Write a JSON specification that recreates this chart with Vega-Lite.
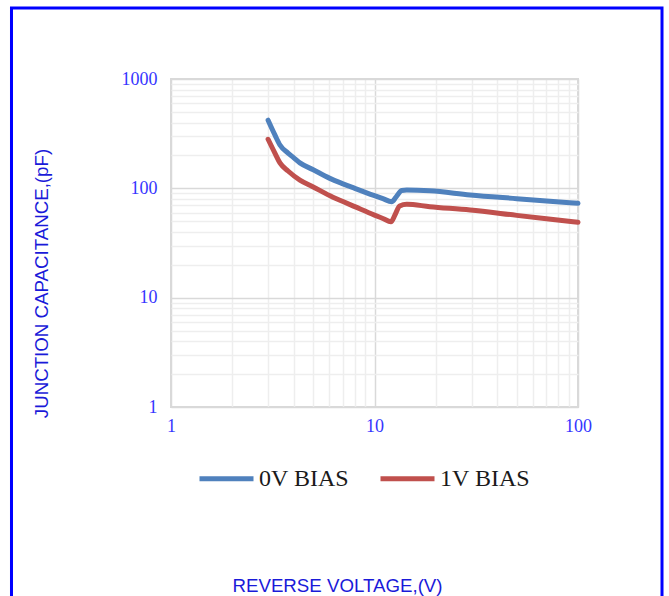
{
  "$schema": "https://vega.github.io/schema/vega-lite/v6.json",
  "width": 407,
  "height": 328,
  "autosize": {"type": "none"},
  "padding": {"left": 171, "top": 79, "right": 91, "bottom": 189},
  "background": "white",
  "config": {
    "view": {"stroke": "#d9d9d9", "strokeWidth": 2}
  },
  "datasets": {
    "curves": [
      {"v": 3.0, "c": 420, "s": "0V BIAS"},
      {"v": 3.24, "c": 308, "s": "0V BIAS"},
      {"v": 3.43, "c": 249, "s": "0V BIAS"},
      {"v": 3.76, "c": 210, "s": "0V BIAS"},
      {"v": 4.0, "c": 191, "s": "0V BIAS"},
      {"v": 4.3, "c": 171, "s": "0V BIAS"},
      {"v": 5.0, "c": 148, "s": "0V BIAS"},
      {"v": 6.0, "c": 124, "s": "0V BIAS"},
      {"v": 7.0, "c": 110, "s": "0V BIAS"},
      {"v": 8.0, "c": 100, "s": "0V BIAS"},
      {"v": 10.0, "c": 85.7, "s": "0V BIAS"},
      {"v": 11.0, "c": 80.5, "s": "0V BIAS"},
      {"v": 12.15, "c": 75.5, "s": "0V BIAS"},
      {"v": 12.75, "c": 83, "s": "0V BIAS"},
      {"v": 13.6, "c": 95.5, "s": "0V BIAS"},
      {"v": 14.4, "c": 96.5, "s": "0V BIAS"},
      {"v": 18.7, "c": 95, "s": "0V BIAS"},
      {"v": 29.5, "c": 87, "s": "0V BIAS"},
      {"v": 50, "c": 80.5, "s": "0V BIAS"},
      {"v": 70, "c": 76.7, "s": "0V BIAS"},
      {"v": 100, "c": 73, "s": "0V BIAS"},
      {"v": 3.0, "c": 281, "s": "1V BIAS"},
      {"v": 3.24, "c": 210, "s": "1V BIAS"},
      {"v": 3.43, "c": 171, "s": "1V BIAS"},
      {"v": 3.76, "c": 144, "s": "1V BIAS"},
      {"v": 4.3, "c": 119, "s": "1V BIAS"},
      {"v": 5.0, "c": 103, "s": "1V BIAS"},
      {"v": 6.25, "c": 83, "s": "1V BIAS"},
      {"v": 7.0, "c": 75.7, "s": "1V BIAS"},
      {"v": 8.0, "c": 68, "s": "1V BIAS"},
      {"v": 10.0, "c": 56.9, "s": "1V BIAS"},
      {"v": 11.0, "c": 53, "s": "1V BIAS"},
      {"v": 12.05, "c": 49.5, "s": "1V BIAS"},
      {"v": 12.6, "c": 57, "s": "1V BIAS"},
      {"v": 13.3, "c": 69, "s": "1V BIAS"},
      {"v": 14.4, "c": 71.5, "s": "1V BIAS"},
      {"v": 18.7, "c": 68, "s": "1V BIAS"},
      {"v": 29.5, "c": 63.4, "s": "1V BIAS"},
      {"v": 50, "c": 56.6, "s": "1V BIAS"},
      {"v": 70, "c": 52.7, "s": "1V BIAS"},
      {"v": 100, "c": 49, "s": "1V BIAS"}
    ]
  },
  "layer": [
    {
      "data": {"name": "curves"},
      "mark": {"type": "line", "strokeWidth": 5, "interpolate": "monotone", "strokeCap": "round", "strokeJoin": "round"},
      "encoding": {
        "x": {
          "field": "v", "type": "quantitative",
          "scale": {"type": "log", "domain": [1, 100], "nice": false},
          "axis": {
            "title": "REVERSE VOLTAGE,(V)",
            "titleFont": "Liberation Sans", "titleFontSize": 18.7, "titleFontWeight": "normal", "titleColor": "#1a1ad9",
            "titleX": 166, "titleY": 178, "titleBaseline": "middle", "titleAlign": "center",
            "values": [1, 2, 3, 4, 5, 6, 7, 8, 9, 10, 20, 30, 40, 50, 60, 70, 80, 90, 100],
            "labelExpr": "abs(log(datum.value)/LN10 - round(log(datum.value)/LN10)) < 0.001 ? format(datum.value, 'd') : ''",
            "labelFont": "Liberation Serif", "labelFontSize": 18, "labelColor": "#3535ff",
            "labelPadding": 10, "labelOverlap": false, "labelFlush": false,
            "ticks": false, "domain": false,
            "grid": true, "gridWidth": 1.5,
            "gridColor": {"condition": {"test": "abs(log(datum.value)/LN10 - round(log(datum.value)/LN10)) < 0.001", "value": "#d9d9d9"}, "value": "#eeeeee"}
          }
        },
        "y": {
          "field": "c", "type": "quantitative",
          "scale": {"type": "log", "domain": [1, 1000], "nice": false},
          "axis": {
            "title": "JUNCTION CAPACITANCE,(pF)",
            "titleFont": "Liberation Sans", "titleFontSize": 18.7, "titleFontWeight": "normal", "titleColor": "#1a1ad9",
            "titleX": -130, "titleY": 204, "titleBaseline": "middle", "titleAlign": "center", "titleAngle": -90,
            "values": [1, 2, 3, 4, 5, 6, 7, 8, 9, 10, 20, 30, 40, 50, 60, 70, 80, 90, 100, 200, 300, 400, 500, 600, 700, 800, 900, 1000],
            "labelExpr": "abs(log(datum.value)/LN10 - round(log(datum.value)/LN10)) < 0.001 ? format(datum.value, 'd') : ''",
            "labelFont": "Liberation Serif", "labelFontSize": 18, "labelColor": "#3535ff",
            "labelPadding": 14, "labelOverlap": false, "labelFlush": false,
            "ticks": false, "domain": false,
            "grid": true, "gridWidth": 1.5,
            "gridColor": {"condition": {"test": "abs(log(datum.value)/LN10 - round(log(datum.value)/LN10)) < 0.001", "value": "#d9d9d9"}, "value": "#eeeeee"}
          }
        },
        "color": {
          "field": "s", "type": "nominal",
          "scale": {"domain": ["0V BIAS", "1V BIAS"], "range": ["#4f81bd", "#c0504d"]},
          "legend": {
            "title": null, "orient": "none", "legendX": 26, "legendY": 370, "direction": "horizontal",
            "padding": 0, "symbolType": "stroke", "symbolSize": 2916, "symbolStrokeWidth": 5,
            "labelFont": "Liberation Serif", "labelFontSize": 24, "labelColor": "#1a1a1a",
            "labelOffset": 3, "columnPadding": 20, "labelLimit": 200
          }
        }
      }
    },
    {
      "data": {"values": [{}]},
      "mark": {"type": "rect", "fill": null, "filled": false, "stroke": "#0000ff", "strokeWidth": 3, "clip": false},
      "encoding": {
        "x": {"datum": 0.1645, "type": "quantitative"},
        "x2": {"datum": 258.7},
        "y": {"datum": 4461, "type": "quantitative"},
        "y2": {"datum": 0.01717}
      }
    }
  ]
}
